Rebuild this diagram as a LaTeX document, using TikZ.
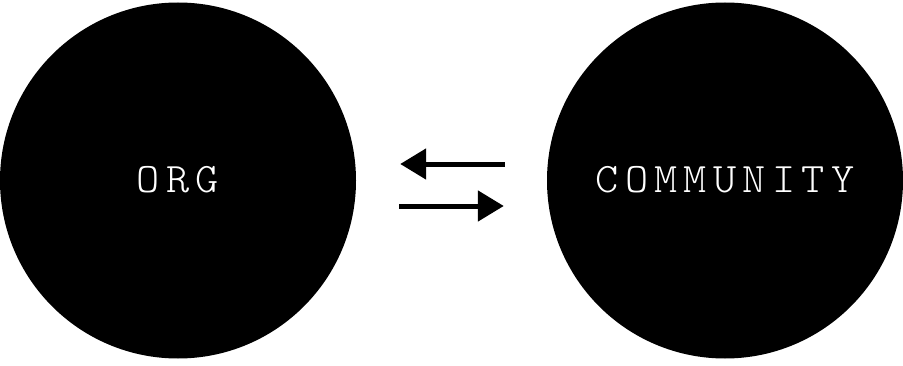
\documentclass[tikz,border=0pt]{standalone}
\usepackage{fontspec}
\usepackage{tikz}
\usetikzlibrary{arrows.meta, positioning}
\newfontfamily\labelfont[FakeStretch=1.05, LetterSpace=15]{Latin Modern Mono Light}
\tikzset{
  blob/.style={circle, fill=black, minimum size=356pt, inner sep=0pt, text=white, font=\labelfont\fontsize{42}{44}\selectfont},
  arr/.style={-{Triangle[length=26pt, width=30pt]}, line width=5pt, black},
}

\begin{document}
\begin{tikzpicture}[x=1pt, y=1pt]
\useasboundingbox (0,0) rectangle (903,365);
\node[blob] (org) at (178,184.5) {\raisebox{2pt}{ORG}};
\node[blob] (comm) at (725,184.5) {\raisebox{2pt}{COMMUNITY}};
\draw[arr, shorten <=42pt, shorten >=44pt] ([yshift=16.5pt]comm.west) -- ([yshift=16.5pt]org.east);
\draw[arr, shorten <=43pt, shorten >=43pt] ([yshift=-25.5pt]org.east) -- ([yshift=-25.5pt]comm.west);
\end{tikzpicture}
\end{document}
